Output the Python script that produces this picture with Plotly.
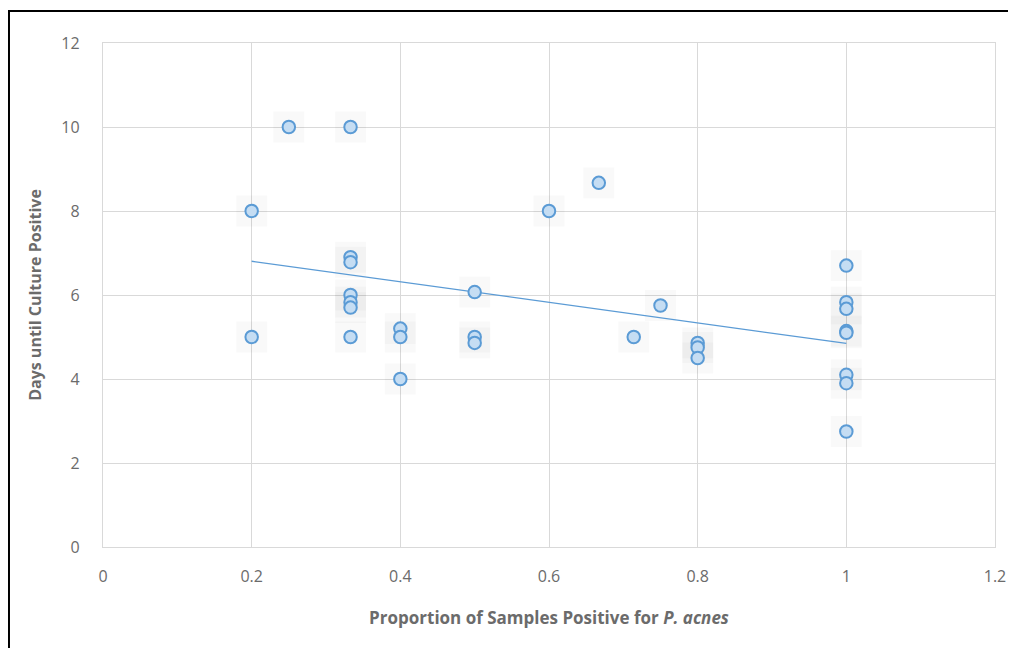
import numpy as np
import plotly.graph_objects as go

proportion = [0.2, 0.2, 0.25,
              0.333, 0.333, 0.333, 0.333, 0.333, 0.333, 0.333,
              0.4, 0.4, 0.4,
              0.5, 0.5, 0.5,
              0.6, 0.667, 0.714, 0.75,
              0.8, 0.8, 0.8,
              1, 1, 1, 1, 1, 1, 1, 1]
days = [8, 5, 10,
        10, 6.9, 6.78, 6.0, 5.83, 5.7, 5.0,
        5.2, 5.0, 4.0,
        6.07, 5.0, 4.86,
        8, 8.67, 5.0, 5.75,
        4.86, 4.75, 4.5,
        6.7, 5.83, 5.67, 5.14, 5.1, 4.1, 3.9, 2.75]

x_ticks = [0, 0.2, 0.4, 0.6, 0.8, 1, 1.2]
x_tick_labels = ["0", "0.2", "0.4", "0.6", "0.8", "1", "1.2"]
y_ticks = [0, 2, 4, 6, 8, 10, 12]

slope, intercept = np.polyfit(proportion, days, 1)
trend_x = [min(proportion), max(proportion)]
trend_y = [slope * v + intercept for v in trend_x]

fig = go.Figure()
# faint shadow squares behind markers
fig.add_trace(go.Scatter(
    x=proportion, y=days, mode="markers",
    marker=dict(size=31, symbol="square", color="rgba(0,0,0,0.022)",
                line=dict(width=0)),
    hoverinfo="skip", showlegend=False))
fig.add_trace(go.Scatter(
    x=trend_x, y=trend_y, mode="lines",
    line=dict(color="#5B9BD5", width=1.3),
    hoverinfo="skip", showlegend=False))
fig.add_trace(go.Scatter(
    x=proportion, y=days, mode="markers",
    marker=dict(size=12.5, color="#C5DDF3",
                line=dict(color="#5B9BD5", width=2)),
    showlegend=False))

font_fam = "'Open Sans', Lato, sans-serif"
grid = "#D9D9D9"
fig.update_layout(
    width=1016, height=648,
    margin=dict(l=95, r=29, t=35, b=109),
    paper_bgcolor="white", plot_bgcolor="white",
    font=dict(family=font_fam, color="#595959", size=14),
    xaxis=dict(range=[0, 1.2], tickvals=x_ticks, ticktext=x_tick_labels,
               showgrid=True, gridcolor=grid, gridwidth=1.3,
               zeroline=False, showline=True, mirror=True,
               linecolor=grid, linewidth=1.3, ticks="",
               tickfont=dict(size=16, color="#6b6b6b"), ticklabelstandoff=15,
               title=dict(text="<b>Proportion of Samples Positive for <i>P. acnes</i></b>",
                          font=dict(size=17, color="#6b6b6b"), standoff=25)),
    yaxis=dict(range=[0, 12], tickvals=y_ticks,
               showgrid=True, gridcolor=grid, gridwidth=1.3,
               zeroline=False, showline=True, mirror=True,
               linecolor=grid, linewidth=1.3, ticks="",
               tickfont=dict(size=16, color="#6b6b6b"), ticklabelstandoff=19,
               title=dict(text="<b>Days until Culture Positive</b>",
                          font=dict(size=16, color="#6b6b6b"), standoff=15)),
    shapes=[dict(type="rect", xref="paper", yref="paper",
                 x0=-0.1054, x1=1.1, y0=-0.4, y1=1.0635,
                 line=dict(color="black", width=2), layer="above")],
)
fig.write_html("out.html")
